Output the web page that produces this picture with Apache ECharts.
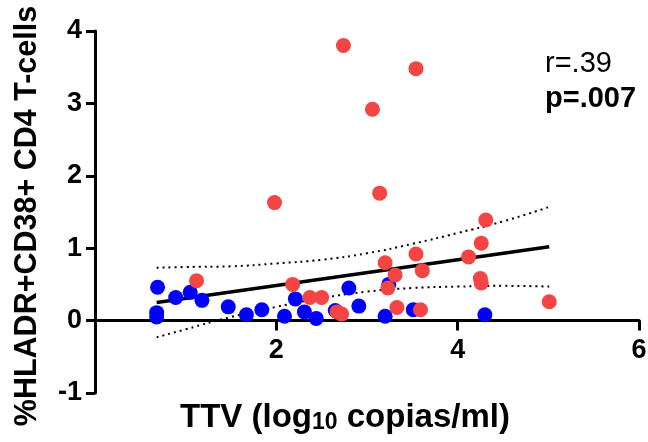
<!DOCTYPE html>
<html><head><meta charset="utf-8">
<script src="https://cdn.jsdelivr.net/npm/echarts@6/dist/echarts.min.js"></script>
<style>html,body{margin:0;padding:0;background:#fff}#c{width:648px;height:442px}</style>
</head><body><div id="c"></div>
<script>
// Blue group
const blueX = [0.69, 0.68, 0.68, 0.89, 1.05, 1.18, 1.47, 1.67, 1.84, 2.09, 2.21, 2.31, 2.44, 2.65, 2.80, 2.91, 3.20, 3.24, 3.51, 4.30];
const blueY = [0.46, 0.11, 0.05, 0.32, 0.39, 0.28, 0.19, 0.08, 0.15, 0.06, 0.30, 0.12, 0.03, 0.14, 0.45, 0.20, 0.06, 0.50, 0.15, 0.08];
// Red group
const redX = [1.12, 1.98, 2.18, 2.37, 2.50, 2.67, 2.72, 2.74, 3.06, 3.14, 3.20, 3.31, 3.23, 3.33, 3.54, 3.54, 3.61, 3.59, 4.12, 4.26, 4.31, 4.25, 4.26, 5.01];
const redY = [0.55, 1.63, 0.50, 0.32, 0.32, 0.12, 0.09, 3.80, 2.92, 1.76, 0.80, 0.63, 0.45, 0.18, 3.48, 0.92, 0.69, 0.15, 0.88, 1.07, 1.39, 0.58, 0.52, 0.26];
// Regression line
const fitX = [0.68, 5.01];
const fitY = [0.25, 1.02];
// Confidence band
const bandX = [0.68, 1.0, 1.5, 2.0, 2.5, 3.0, 3.5, 4.0, 4.5, 5.01];
const bandUpper = [0.73, 0.74, 0.75, 0.79, 0.84, 0.93, 1.06, 1.21, 1.37, 1.57];
const bandLower = [-0.23, -0.12, 0.05, 0.19, 0.31, 0.40, 0.45, 0.47, 0.48, 0.47];
// Ticks
const xTicks = {min: 0, max: 6, interval: 2};
const yTicks = {min: -1, max: 4, interval: 1};
const statR = 'r=.39';
const statP = 'p=.007';

const zip = (a, b) => a.map((v, i) => [v, b[i]]);
const FONT = '"Liberation Sans", Arial, sans-serif';
const GRID_H = 362;
// x axis sits at y = 0, one y-unit above the grid bottom
const xOffset = -GRID_H * (0 - yTicks.min) / (yTicks.max - yTicks.min);
const chart = echarts.init(document.getElementById('c'), null, {renderer: 'canvas'});
chart.setOption({
  animation: false,
  grid: {left: 95, top: 31, width: 544, height: GRID_H, containLabel: false, outerBoundsMode: 'none'},
  xAxis: {
    type: 'value', min: xTicks.min, max: xTicks.max, interval: xTicks.interval,
    position: 'bottom', offset: xOffset,
    axisLine: {onZero: false, lineStyle: {color: '#000', width: 3}},
    axisTick: {length: 10, lineStyle: {color: '#000', width: 3}},
    axisLabel: {showMinLabel: false, margin: 16, color: '#000', fontSize: 27, fontWeight: 'bold', fontFamily: FONT},
    splitLine: {show: false},
    name: '{a|TTV (log}{s|10}{a| copias/ml)}',
    nameLocation: 'middle', nameGap: 75,
    nameTextStyle: {
      padding: [0, 44, 0, 0],
      rich: {
        a: {fontSize: 33, fontWeight: 'bold', color: '#000', fontFamily: FONT, lineHeight: 39, verticalAlign: 'bottom'},
        s: {fontSize: 23, fontWeight: 'bold', color: '#000', fontFamily: FONT, lineHeight: 16, verticalAlign: 'bottom'}
      }
    }
  },
  yAxis: {
    type: 'value', min: yTicks.min, max: yTicks.max, interval: yTicks.interval,
    axisLine: {show: true, onZero: false, lineStyle: {color: '#000', width: 3}},
    axisTick: {show: true, length: 9, lineStyle: {color: '#000', width: 3}},
    axisLabel: {margin: 13, color: '#000', fontSize: 27, fontWeight: 'bold', fontFamily: FONT},
    splitLine: {show: false},
    name: '%HLADR+CD38+ CD4 T-cells',
    nameLocation: 'middle', nameRotate: 90, nameGap: 52,
    nameTextStyle: {fontSize: 30.5, fontWeight: 'bold', color: '#000', fontFamily: FONT, padding: [0, 8, 0, 0]}
  },
  series: [
    {type: 'line', data: zip(bandX, bandUpper), smooth: true, symbol: 'none', silent: true,
     lineStyle: {color: '#000', width: 2, type: [2, 4]}, z: 2},
    {type: 'line', data: zip(bandX, bandLower), smooth: true, symbol: 'none', silent: true,
     lineStyle: {color: '#000', width: 2, type: [2, 4]}, z: 2},
    {type: 'line', data: zip(fitX, fitY), symbol: 'none', silent: true,
     lineStyle: {color: '#000', width: 3.5}, z: 3},
    {type: 'scatter', data: zip(blueX, blueY), symbolSize: 15,
     itemStyle: {color: '#0000ff', opacity: 1}, z: 4},
    {type: 'scatter', data: zip(redX, redY), symbolSize: 15,
     itemStyle: {color: '#f44444', opacity: 1}, z: 5}
  ],
  graphic: [
    {type: 'text', x: 545, y: 64, style: {text: statR, fontSize: 29, fontFamily: FONT, fill: '#000', verticalAlign: 'middle'}},
    {type: 'text', x: 545, y: 99, style: {text: statP, fontSize: 29, fontWeight: 'bold', fontFamily: FONT, fill: '#000', verticalAlign: 'middle'}}
  ]
});
</script>
</body></html>
